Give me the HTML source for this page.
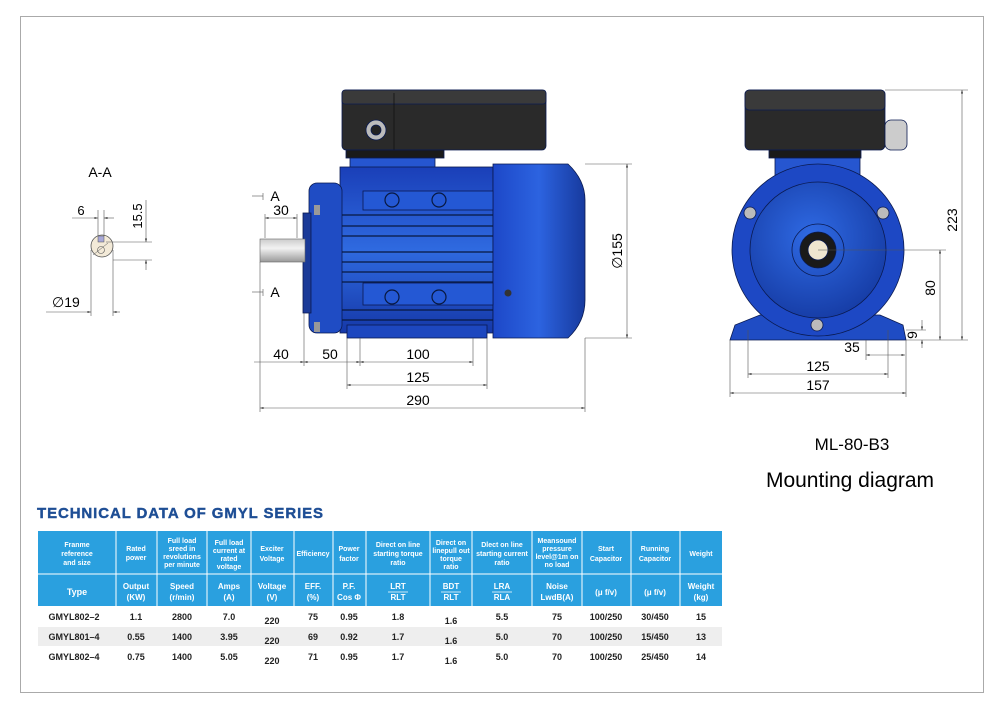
<!DOCTYPE html>
<html><head><meta charset="utf-8"><style>
body{margin:0;background:#fff;width:999px;height:706px;overflow:hidden;font-family:"Liberation Sans",sans-serif}
svg{position:absolute;left:0;top:0}
</style></head><body>
<svg width="999" height="706" viewBox="0 0 999 706" font-family="Liberation Sans, sans-serif">
<defs>
<linearGradient id="bv" x1="0" y1="0" x2="0" y2="1"><stop offset="0" stop-color="#1a3fb8"/><stop offset="0.5" stop-color="#2f6ae0"/><stop offset="1" stop-color="#1538a8"/></linearGradient>
<linearGradient id="fc" x1="0" y1="0" x2="1" y2="0"><stop offset="0" stop-color="#1d48c8"/><stop offset="0.5" stop-color="#2c63e0"/><stop offset="1" stop-color="#173a9e"/></linearGradient>
<radialGradient id="rc" cx="0.45" cy="0.4" r="0.6"><stop offset="0" stop-color="#2f6ae4"/><stop offset="1" stop-color="#173ea8"/></radialGradient>
<linearGradient id="sh" x1="0" y1="0" x2="0" y2="1"><stop offset="0" stop-color="#ccc"/><stop offset="0.4" stop-color="#f2f2f2"/><stop offset="1" stop-color="#999"/></linearGradient>
<marker id="ar" viewBox="0 0 10 10" refX="10" refY="5" markerWidth="6" markerHeight="6" orient="auto-start-reverse"><path d="M0,2 L10,5 L0,8z" fill="#333"/></marker>
</defs>
<rect x="20.5" y="16.5" width="963" height="676" fill="none" stroke="#aaa" stroke-width="1"/>

<!-- A-A section -->
<text x="100" y="177" font-size="14" text-anchor="middle">A-A</text>
<circle cx="102" cy="246" r="11" fill="#f3ead8" stroke="#555" stroke-width="0.8"/>
<rect x="98" y="236" width="6" height="6" fill="#a8a8d8" stroke="#555" stroke-width="0.5"/>
<circle cx="101" cy="250" r="3.5" fill="none" stroke="#555" stroke-width="0.6"/>
<line x1="93" y1="255" x2="108" y2="243" stroke="#555" stroke-width="0.5"/>
<g stroke="#555" stroke-width="0.6" fill="none">
<line x1="98" y1="210" x2="98" y2="236"/><line x1="104" y1="210" x2="104" y2="236"/>
<line x1="72" y1="218" x2="98" y2="218" marker-end="url(#ar)"/><line x1="104" y1="218" x2="114" y2="218" marker-start="url(#ar)"/>
<line x1="106" y1="242" x2="152" y2="242"/><line x1="113" y1="260" x2="152" y2="260"/>
<line x1="146" y1="200" x2="146" y2="242" marker-end="url(#ar)"/><line x1="146" y1="260" x2="146" y2="270" marker-start="url(#ar)"/>
<line x1="91" y1="250" x2="91" y2="316"/><line x1="113" y1="250" x2="113" y2="316"/>
<line x1="46" y1="312" x2="91" y2="312" marker-end="url(#ar)"/><line x1="113" y1="312" x2="120" y2="312" marker-start="url(#ar)"/>
</g>
<text x="81" y="215" font-size="13" text-anchor="middle">6</text>
<text x="142" y="216" font-size="13" transform="rotate(-90 142 216)" text-anchor="middle">15.5</text>
<text x="52" y="307" font-size="14">∅19</text>

<!-- side view motor -->
<g stroke="#0a1a50" stroke-width="0.8">
<rect x="342" y="90" width="204" height="60" rx="4" fill="#2a2a2a"/>
<rect x="342" y="90" width="204" height="14" rx="3" fill="#3a3a3a"/>
<line x1="394" y1="93" x2="394" y2="150" stroke="#111"/>
<rect x="346" y="150" width="98" height="8" fill="#1a1a1a"/>
<circle cx="376" cy="130" r="10" fill="#bbb"/><circle cx="376" cy="130" r="5" fill="#222"/>
<rect x="350" y="158" width="85" height="30" fill="#2656d0"/>
<rect x="340" y="167" width="153" height="166" fill="url(#bv)"/>
<rect x="309" y="183" width="33" height="150" rx="8" fill="#1f4cc4"/>
<rect x="303" y="213" width="8" height="100" fill="#1a3a98"/>
<path d="M493 164 L568 164 Q585 180 585 200 L585 300 Q585 322 568 338 L493 338 Z" fill="url(#fc)"/>
<rect x="347" y="325" width="140" height="13" fill="#1d47bf"/>
<rect x="363" y="191" width="130" height="19" fill="#2458d4"/>
<rect x="363" y="283" width="130" height="22" fill="#2458d4"/>
</g>
<g stroke="#081840" stroke-width="1.2">
<line x1="342" y1="215" x2="493" y2="215"/><line x1="342" y1="226" x2="493" y2="226"/><line x1="342" y1="236" x2="493" y2="236"/>
<line x1="342" y1="252" x2="493" y2="252"/><line x1="342" y1="262" x2="493" y2="262"/><line x1="342" y1="272" x2="493" y2="272"/><line x1="342" y1="282" x2="493" y2="282"/>
<line x1="342" y1="310" x2="493" y2="310"/><line x1="342" y1="320" x2="493" y2="320"/>
</g>
<g fill="#2458d4" stroke="#081840" stroke-width="1.2">
<circle cx="392" cy="200" r="7"/><circle cx="439" cy="200" r="7"/><circle cx="392" cy="297" r="7"/><circle cx="439" cy="297" r="7"/>
</g>
<circle cx="508" cy="293" r="3.5" fill="#333"/>
<rect x="260" y="239" width="45" height="23" fill="url(#sh)" stroke="#666" stroke-width="0.6"/>
<rect x="314" y="205" width="6" height="10" fill="#999"/><rect x="314" y="322" width="6" height="10" fill="#999"/>

<!-- side dims -->
<g stroke="#555" stroke-width="0.6" fill="none">
<line x1="260" y1="262" x2="260" y2="412"/><line x1="585" y1="338" x2="585" y2="412"/>
<line x1="260" y1="408" x2="585" y2="408" marker-start="url(#ar)" marker-end="url(#ar)"/>
<line x1="347" y1="338" x2="347" y2="389"/><line x1="487" y1="338" x2="487" y2="389"/>
<line x1="347" y1="385" x2="487" y2="385" marker-start="url(#ar)" marker-end="url(#ar)"/>
<line x1="304" y1="313" x2="304" y2="366"/><line x1="360" y1="338" x2="360" y2="366"/><line x1="473" y1="338" x2="473" y2="366"/>
<line x1="254" y1="362" x2="304" y2="362" marker-end="url(#ar)"/><line x1="304" y1="362" x2="360" y2="362" marker-start="url(#ar)" marker-end="url(#ar)"/>
<line x1="360" y1="362" x2="473" y2="362" marker-start="url(#ar)" marker-end="url(#ar)"/>
<line x1="585" y1="164" x2="632" y2="164"/><line x1="585" y1="338" x2="632" y2="338"/>
<line x1="627" y1="164" x2="627" y2="338" marker-start="url(#ar)" marker-end="url(#ar)"/>
<line x1="265" y1="218" x2="297" y2="218" marker-start="url(#ar)" marker-end="url(#ar)"/>
<line x1="265" y1="214" x2="265" y2="238"/><line x1="297" y1="214" x2="297" y2="238"/>
<line x1="252" y1="196" x2="263" y2="196"/><line x1="263" y1="193" x2="263" y2="200"/>
<line x1="252" y1="292" x2="263" y2="292"/><line x1="263" y1="289" x2="263" y2="296"/>
</g>
<g font-size="14" text-anchor="middle">
<text x="275" y="201">A</text><text x="275" y="297">A</text>
<text x="281" y="215">30</text><text x="281" y="359">40</text><text x="330" y="359">50</text>
<text x="418" y="359">100</text><text x="418" y="382">125</text><text x="418" y="405">290</text>
<text x="622" y="251" transform="rotate(-90 622 251)">∅155</text>
</g>

<!-- front view -->
<g stroke="#0a1a50" stroke-width="0.8">
<rect x="745" y="90" width="140" height="60" rx="5" fill="#2a2a2a"/>
<rect x="745" y="90" width="140" height="20" rx="4" fill="#3a3a3a"/>
<rect x="769" y="150" width="92" height="8" fill="#1a1a1a"/>
<rect x="885" y="120" width="22" height="30" rx="6" fill="#ccc"/>
<rect x="775" y="158" width="85" height="30" fill="#2656d0"/>
<path d="M730 340 L735 325 L760 315 L880 315 L903 325 L906 340 Z" fill="#1f4cc4"/>
<circle cx="818" cy="250" r="86" fill="#1d48c4"/>
<circle cx="818" cy="250" r="68" fill="url(#rc)"/>
<circle cx="818" cy="250" r="26" fill="none"/>
<circle cx="818" cy="250" r="18" fill="#1a1a1a"/>
<circle cx="818" cy="250" r="10" fill="#efe6d0"/>
<circle cx="750" cy="213" r="6" fill="#bbb"/><circle cx="883" cy="213" r="6" fill="#bbb"/><circle cx="817" cy="325" r="6" fill="#bbb"/>
</g>
<g stroke="#555" stroke-width="0.6" fill="none">
<line x1="885" y1="90" x2="968" y2="90"/><line x1="906" y1="340" x2="968" y2="340"/>
<line x1="962" y1="90" x2="962" y2="340" marker-start="url(#ar)" marker-end="url(#ar)"/>
<line x1="818" y1="250" x2="946" y2="250"/>
<line x1="940" y1="250" x2="940" y2="340" marker-start="url(#ar)" marker-end="url(#ar)"/>
<line x1="906" y1="330" x2="926" y2="330"/>
<line x1="922" y1="320" x2="922" y2="330" marker-end="url(#ar)"/><line x1="922" y1="340" x2="922" y2="348" marker-start="url(#ar)"/>
<line x1="866" y1="340" x2="866" y2="360"/><line x1="906" y1="340" x2="906" y2="397"/>
<line x1="866" y1="355" x2="905" y2="355" marker-start="url(#ar)" marker-end="url(#ar)"/>
<line x1="748" y1="330" x2="748" y2="378"/><line x1="888" y1="330" x2="888" y2="378"/>
<line x1="748" y1="374" x2="888" y2="374" marker-start="url(#ar)" marker-end="url(#ar)"/>
<line x1="730" y1="340" x2="730" y2="397"/>
<line x1="730" y1="393" x2="906" y2="393" marker-start="url(#ar)" marker-end="url(#ar)"/>
</g>
<g font-size="14" text-anchor="middle">
<text x="957" y="220" transform="rotate(-90 957 220)">223</text>
<text x="935" y="288" transform="rotate(-90 935 288)">80</text>
<text x="917" y="335" transform="rotate(-90 917 335)">9</text>
<text x="852" y="352">35</text><text x="818" y="371">125</text><text x="818" y="390">157</text>
</g>
<text x="852" y="450" font-size="17" text-anchor="middle">ML-80-B3</text>
<text x="850" y="487" font-size="21" text-anchor="middle">Mounting diagram</text>

<!-- table -->
<text x="37" y="518" font-size="15" font-weight="bold" fill="#1e4e95" letter-spacing="0.9" stroke="#1e4e95" stroke-width="0.4">TECHNICAL DATA OF GMYL SERIES</text>
<rect x="38" y="531" width="684" height="75" fill="#2aa0df"/>
<g stroke="#fff" stroke-width="1">
<line x1="38" y1="574" x2="722" y2="574"/>
<line x1="116" y1="531" x2="116" y2="606"/><line x1="157" y1="531" x2="157" y2="606"/><line x1="207" y1="531" x2="207" y2="606"/>
<line x1="251" y1="531" x2="251" y2="606"/><line x1="294" y1="531" x2="294" y2="606"/><line x1="333" y1="531" x2="333" y2="606"/>
<line x1="366" y1="531" x2="366" y2="606"/><line x1="430" y1="531" x2="430" y2="606"/><line x1="472" y1="531" x2="472" y2="606"/>
<line x1="532" y1="531" x2="532" y2="606"/><line x1="582" y1="531" x2="582" y2="606"/><line x1="631" y1="531" x2="631" y2="606"/>
<line x1="680" y1="531" x2="680" y2="606"/>
</g>
<rect x="38" y="627" width="684" height="19" fill="#eeeeee"/>
<g fill="#fff" font-size="7" font-weight="bold" text-anchor="middle">
<text x="77" y="547">Franme</text><text x="77" y="556">reference</text><text x="77" y="565">and size</text>
<text x="136" y="551">Rated</text><text x="136" y="560">power</text>
<text x="182" y="543">Full load</text><text x="182" y="551">sreed in</text><text x="182" y="559">revolutions</text><text x="182" y="567">per minute</text>
<text x="229" y="545">Full load</text><text x="229" y="553">current at</text><text x="229" y="561">rated</text><text x="229" y="569">voltage</text>
<text x="272" y="551">Exciter</text><text x="272" y="561">Voltage</text>
<text x="313" y="556">Efficiency</text>
<text x="349" y="551">Power</text><text x="349" y="561">factor</text>
<text x="398" y="547">Direct on line</text><text x="398" y="556">starting torque</text><text x="398" y="565">ratio</text>
<text x="451" y="545">Direct on</text><text x="451" y="553">linepull out</text><text x="451" y="561">torque</text><text x="451" y="569">ratio</text>
<text x="502" y="547">Dlect on line</text><text x="502" y="556">starting current</text><text x="502" y="565">ratio</text>
<text x="557" y="543">Meansound</text><text x="557" y="551">pressure</text><text x="557" y="559">level@1m on</text><text x="557" y="567">no load</text>
<text x="606" y="551">Start</text><text x="606" y="561">Capacitor</text>
<text x="655" y="551">Running</text><text x="655" y="561">Capacitor</text>
<text x="701" y="556">Weight</text>
</g>
<g fill="#fff" font-size="8" font-weight="bold" text-anchor="middle">
<text x="77" y="595" font-size="9">Type</text>
<text x="136" y="589">Output</text><text x="136" y="600">(KW)</text>
<text x="182" y="589">Speed</text><text x="182" y="600">(r/min)</text>
<text x="229" y="589">Amps</text><text x="229" y="600">(A)</text>
<text x="272" y="589">Voltage</text><text x="272" y="600">(V)</text>
<text x="313" y="589">EFF.</text><text x="313" y="600">(%)</text>
<text x="349" y="589">P.F.</text><text x="349" y="600">Cos Φ</text>
<text x="398" y="589">LRT</text><text x="398" y="600">RLT</text>
<text x="451" y="589">BDT</text><text x="451" y="600">RLT</text>
<text x="502" y="589">LRA</text><text x="502" y="600">RLA</text>
<text x="557" y="589">Noise</text><text x="557" y="600">LwdB(A)</text>
<text x="606" y="595">(μ f/v)</text><text x="655" y="595">(μ f/v)</text>
<text x="701" y="589">Weight</text><text x="701" y="600">(kg)</text>
</g>
<g stroke="#fff" stroke-width="0.7"><line x1="388" y1="592" x2="408" y2="592"/><line x1="441" y1="592" x2="461" y2="592"/><line x1="492" y1="592" x2="512" y2="592"/></g>
<g font-size="9" font-weight="bold" fill="#222" text-anchor="middle">
<text x="74" y="620">GMYL802–2</text><text x="136" y="620">1.1</text><text x="182" y="620">2800</text><text x="229" y="620">7.0</text><text x="272" y="624">220</text><text x="313" y="620">75</text><text x="349" y="620">0.95</text><text x="398" y="620">1.8</text><text x="451" y="624">1.6</text><text x="502" y="620">5.5</text><text x="557" y="620">75</text><text x="606" y="620">100/250</text><text x="655" y="620">30/450</text><text x="701" y="620">15</text>
<text x="74" y="640">GMYL801–4</text><text x="136" y="640">0.55</text><text x="182" y="640">1400</text><text x="229" y="640">3.95</text><text x="272" y="644">220</text><text x="313" y="640">69</text><text x="349" y="640">0.92</text><text x="398" y="640">1.7</text><text x="451" y="644">1.6</text><text x="502" y="640">5.0</text><text x="557" y="640">70</text><text x="606" y="640">100/250</text><text x="655" y="640">15/450</text><text x="701" y="640">13</text>
<text x="74" y="660">GMYL802–4</text><text x="136" y="660">0.75</text><text x="182" y="660">1400</text><text x="229" y="660">5.05</text><text x="272" y="664">220</text><text x="313" y="660">71</text><text x="349" y="660">0.95</text><text x="398" y="660">1.7</text><text x="451" y="664">1.6</text><text x="502" y="660">5.0</text><text x="557" y="660">70</text><text x="606" y="660">100/250</text><text x="655" y="660">25/450</text><text x="701" y="660">14</text>
</g>
</svg>
</body></html>
